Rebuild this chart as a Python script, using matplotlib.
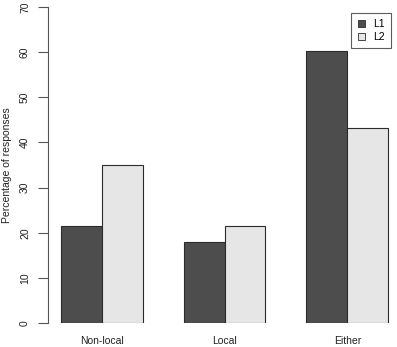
import numpy as np
import matplotlib
matplotlib.use('Agg')
import matplotlib.pyplot as plt
from matplotlib.patches import Patch

categories = ['Non-local', 'Local', 'Either']
l1 = [21.5, 18.0, 60.2]
l2 = [35.1, 21.5, 43.2]
series_names = ['L1', 'L2']
yticks = [0, 10, 20, 30, 40, 50, 60, 70]

plt.rcParams['font.family'] = ['Liberation Sans', 'DejaVu Sans']

W, H = 397, 347
fig = plt.figure(figsize=(W / 100, H / 100), dpi=100)
# plot region in pixels: left 48, right 391, top 7, bottom 323
ax = fig.add_axes([48 / W, 1 - 323 / H, (391 - 48) / W, (323 - 7) / H])

# R barplot(beside=TRUE): bar width 1, one bar gap between groups
starts = np.array([1, 4, 7])
dark, light, edge = '#4d4d4d', '#e6e6e6', '#2b2b2b'
ax.bar(starts + 0.5, l1, width=1, color=dark, edgecolor=edge, linewidth=0.8)
ax.bar(starts + 1.5, l2, width=1, color=light, edgecolor=edge, linewidth=0.8)

ax.set_xlim(0.68, 9.07)
ax.set_ylim(0, 70)
for s in ['top', 'right', 'bottom']:
    ax.spines[s].set_visible(False)
ax.spines['left'].set_color('#555555')
ax.spines['left'].set_linewidth(0.8)

ax.set_yticks(yticks)
ax.set_yticklabels([str(t) for t in yticks], rotation=90, va='center', fontsize=7.5)
ax.tick_params(axis='y', length=7, width=0.8, color='#555555', pad=6, labelcolor='#222222')
ax.set_xticks(starts + 1)
ax.set_xticklabels(categories, fontsize=7.5, color='#222222')
ax.tick_params(axis='x', length=0, pad=9)

ax.set_ylabel('Percentage of responses', fontsize=7.5, color='#222222', labelpad=6)

handles = [Patch(facecolor=dark, edgecolor=edge, linewidth=0.6),
           Patch(facecolor=light, edgecolor=edge, linewidth=0.6)]
leg = ax.legend(handles, series_names, loc='upper right', bbox_to_anchor=(1.0, 1 - 6 / 316),
                fontsize=7.5, frameon=True, fancybox=False, handlelength=0.7, handleheight=0.7,
                handletextpad=0.8, borderpad=0.6, labelspacing=0.25, borderaxespad=0)
leg.get_frame().set_edgecolor('#333333')
leg.get_frame().set_linewidth(0.8)

fig.savefig('out.png', dpi=100)
